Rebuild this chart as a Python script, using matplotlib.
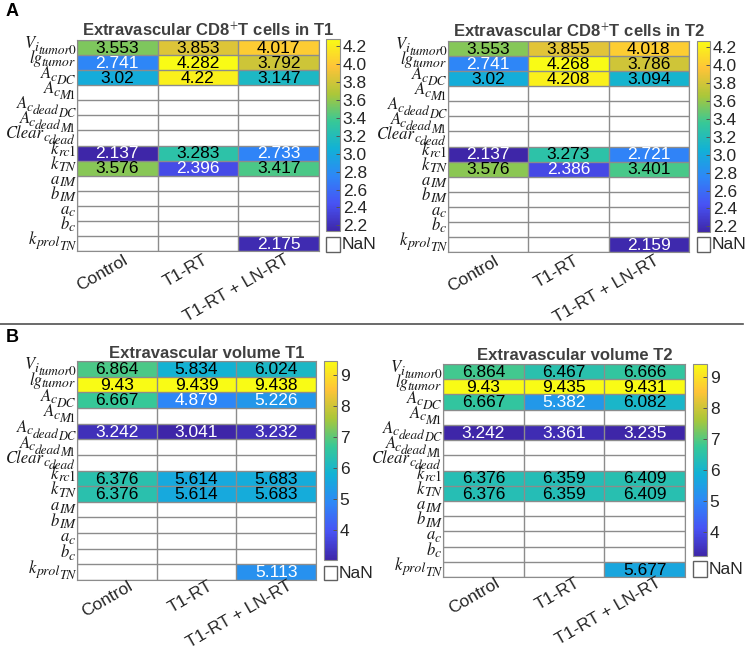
import re
import numpy as np
import matplotlib
matplotlib.use("Agg")
import matplotlib.pyplot as plt
from matplotlib.colors import LinearSegmentedColormap
from matplotlib.patches import Rectangle
from matplotlib.lines import Line2D
from matplotlib.transforms import IdentityTransform, ScaledTranslation, blended_transform_factory

plt.rcParams['font.family'] = ['Liberation Sans', 'DejaVu Sans']
plt.rcParams['mathtext.fontset'] = 'stix'

nan = np.nan

# parameter names, "_" = subscript (nested with braces)
params = ['V_{i_{tumor0}}', 'lg_{tumor}', 'A_{c_{DC}}', 'A_{c_{M1}}',
          'A_{c_{dead_{DC}}}', 'A_{c_{dead_{M1}}}', 'Clear_{c_{dead}}',
          'k_{rc1}', 'k_{TN}', 'a_{IM}', 'b_{IM}', 'a_c', 'b_c', 'k_{prol_{TN}}']
groups = ['Control', 'T1-RT', 'T1-RT + LN-RT']

# columns: Control, T1-RT, T1-RT + LN-RT
cd8_t1 = [[3.553, 3.853, 4.017], [2.741, 4.282, 3.792], [3.02, 4.22, 3.147],
          [nan, nan, nan], [nan, nan, nan], [nan, nan, nan], [nan, nan, nan],
          [2.137, 3.283, 2.733], [3.576, 2.396, 3.417],
          [nan, nan, nan], [nan, nan, nan], [nan, nan, nan], [nan, nan, nan],
          [nan, nan, 2.175]]
cd8_t2 = [[3.553, 3.855, 4.018], [2.741, 4.268, 3.786], [3.02, 4.208, 3.094],
          [nan, nan, nan], [nan, nan, nan], [nan, nan, nan], [nan, nan, nan],
          [2.137, 3.273, 2.721], [3.576, 2.386, 3.401],
          [nan, nan, nan], [nan, nan, nan], [nan, nan, nan], [nan, nan, nan],
          [nan, nan, 2.159]]
vol_t1 = [[6.864, 5.834, 6.024], [9.43, 9.439, 9.438], [6.667, 4.879, 5.226],
          [nan, nan, nan], [3.242, 3.041, 3.232], [nan, nan, nan], [nan, nan, nan],
          [6.376, 5.614, 5.683], [6.376, 5.614, 5.683],
          [nan, nan, nan], [nan, nan, nan], [nan, nan, nan], [nan, nan, nan],
          [nan, nan, 5.113]]
vol_t2 = [[6.864, 6.467, 6.666], [9.43, 9.435, 9.431], [6.667, 5.382, 6.082],
          [nan, nan, nan], [3.242, 3.361, 3.235], [nan, nan, nan], [nan, nan, nan],
          [6.376, 6.359, 6.409], [6.376, 6.359, 6.409],
          [nan, nan, nan], [nan, nan, nan], [nan, nan, nan], [nan, nan, nan],
          [nan, nan, 5.677]]

titles = ['Extravascular CD8$^{+}$T cells in T1', 'Extravascular CD8$^{+}$T cells in T2',
          'Extravascular volume T1', 'Extravascular volume T2']
cb_ticks_a = [2.2, 2.4, 2.6, 2.8, 3.0, 3.2, 3.4, 3.6, 3.8, 4.0, 4.2]
cb_ticks_b = [4, 5, 6, 7, 8, 9]

parula = LinearSegmentedColormap.from_list('parula', [
    (0.2422, 0.1504, 0.6603), (0.2810, 0.3228, 0.9579), (0.1786, 0.5289, 0.9682),
    (0.0689, 0.6948, 0.8394), (0.2161, 0.7843, 0.5923), (0.6720, 0.7793, 0.2227),
    (0.9970, 0.7659, 0.2199), (0.9769, 0.9839, 0.0805)])

W, H = 745, 650
fig = plt.figure(figsize=(W / 100, H / 100), dpi=100)
renderer = fig.canvas.get_renderer()
PX = IdentityTransform()


def rect(x0, y0, x1, y1):
    return [x0 / W, 1 - y1 / H, (x1 - x0) / W, (y1 - y0) / H]


def parse(s, level=0):
    # split 'A_{c_{DC}}' into [('A',0), ('c',1), ('DC',2)]
    out, buf, i = [], '', 0
    while i < len(s):
        ch = s[i]
        if ch == '_':
            if buf:
                out.append((buf, level))
                buf = ''
            if s[i + 1] == '{':
                depth, j = 1, i + 2
                while depth:
                    depth += {'{': 1, '}': -1}.get(s[j], 0)
                    j += 1
                out += parse(s[i + 2:j - 1], level + 1)
                i = j
            else:
                out.append((s[i + 1], level + 1))
                i += 2
            continue
        buf += ch
        i += 1
    if buf:
        out.append((buf, level))
    return out


sizes = [12, 10, 9.5, 9]
drops = [0, 2.5, 6, 8.5]


def ylabel(label, x_right, y_base):
    x = x_right
    for txt, lev in reversed(parse(label)):
        for run in reversed(re.findall(r'\d+|\D+', txt)):
            digit = run.isdigit()
            t = fig.text(x, H - y_base - drops[lev], run, transform=PX,
                         family='STIXGeneral', style='normal' if digit else 'italic',
                         fontsize=sizes[lev], ha='right', va='baseline', color='#1a1a1a')
            x -= t.get_window_extent(renderer).width - (1.5 if digit else 0.5)


grid_col = '#8c8c8c'


def heat(data, title, boxes, ticks, fmt, lab_off):
    hx, cx, nx = boxes
    data = np.array(data)
    nr, nc = data.shape
    vmin, vmax = np.nanmin(data), np.nanmax(data)
    ax = fig.add_axes(rect(*hx))
    m = ax.pcolormesh(np.ma.masked_invalid(data), cmap=parula, vmin=vmin, vmax=vmax)
    ax.set_xlim(0, nc)
    ax.set_ylim(nr, 0)
    ax.set_xticks(np.arange(nc + 1))
    ax.set_yticks(np.arange(nr + 1))
    ax.set_xticklabels([])
    ax.set_yticklabels([])
    ax.tick_params(length=0)
    ax.grid(color=grid_col, lw=1)
    ax.set_axisbelow(False)
    for s in ax.spines.values():
        s.set_color(grid_col)
    for i in range(nr):
        for j in range(nc):
            v = data[i, j]
            if np.isnan(v):
                continue
            r, g, b, _ = parula((v - vmin) / (vmax - vmin))
            lum = 0.299 * r + 0.587 * g + 0.114 * b
            ax.text(j + 0.5, i + 0.55, fmt(v), ha='center', va='center', fontsize=12.5,
                    color='white' if lum < 0.51 else 'black')
    # row labels
    rh = (hx[3] - hx[1]) / nr
    for i, p in enumerate(params):
        ylabel(p, hx[0] - 2, hx[1] + rh * (i + 0.5) + 0.5)
    # group labels
    tr = blended_transform_factory(ax.transData, ax.transAxes) + \
        ScaledTranslation(lab_off[0] / 100, -lab_off[1] / 100, fig.dpi_scale_trans)
    for j, gname in enumerate(groups):
        ax.text(j + 0.5, 0, gname, transform=tr, rotation=30, ha='right', va='center',
                rotation_mode='anchor', fontsize=12.5, color='#262626')
    fig.text((hx[0] + cx[2]) / 2, H - hx[1] + 3.5, title, transform=PX, ha='center',
             va='baseline', fontsize=12, fontweight='bold', color='#404040')
    cax = fig.add_axes(rect(*cx))
    cb = fig.colorbar(m, cax=cax, ticks=ticks)
    cb.outline.set_edgecolor(grid_col)
    cax.tick_params(direction='in', length=3, width=0.7, color='#555555',
                    labelsize=12.5, labelcolor='#262626', pad=2)
    cax.set_yticklabels(['%g' % t if ticks is cb_ticks_b else '%.1f' % t for t in ticks])
    fig.patches.append(Rectangle((nx[0] / W, 1 - nx[3] / H), (nx[2] - nx[0]) / W,
                                 (nx[3] - nx[1]) / H, transform=fig.transFigure,
                                 facecolor='white', edgecolor='#606060', lw=1))
    fig.text((nx[2] + 2) / W, 1 - (nx[1] + nx[3]) / 2 / H, 'NaN', fontsize=12.5,
             color='#262626', ha='left', va='center')


def f3(v):
    return ('%.3f' % v).rstrip('0').rstrip('.')


heat(cd8_t1, titles[0], [(77, 40, 319, 251), (326, 39, 340, 231), (326, 237, 340, 252)],
     cb_ticks_a, f3, (9, 8))
heat(cd8_t2, titles[1], [(448, 41, 689, 252), (697, 41, 710, 232), (697, 237, 710, 252)],
     cb_ticks_a, f3, (9, 8))
heat(vol_t1, titles[2], [(77, 361, 316, 580), (324, 361, 337, 560), (324, 566, 337, 580)],
     cb_ticks_b, f3, (15, 5))
heat(vol_t2, titles[3], [(443, 364, 685, 577), (693, 364, 707, 556), (693, 561, 707, 577)],
     cb_ticks_b, f3, (15, 5))

fig.lines.append(Line2D([0, 743 / W], [1 - 324 / H, 1 - 324 / H], transform=fig.transFigure,
                        color='#505050', lw=1.2))
fig.text(6 / W, 1 - 11 / H, 'A', fontsize=13, fontweight='bold', va='center')
fig.text(6 / W, 1 - 338 / H, 'B', fontsize=13, fontweight='bold', va='center')

fig.savefig('out.png', dpi=100)
